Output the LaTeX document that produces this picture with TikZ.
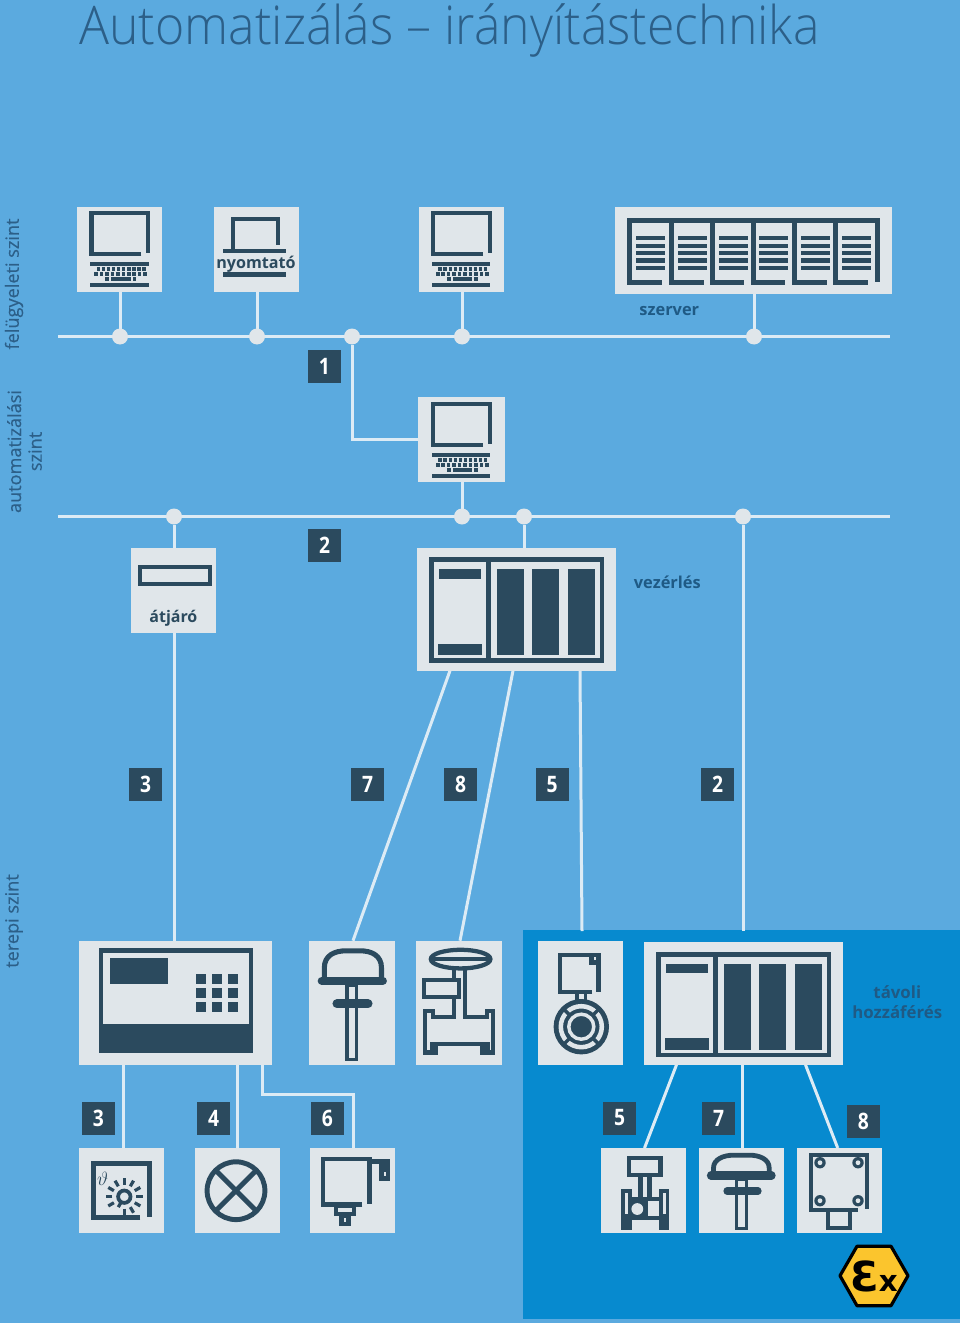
\documentclass[tikz,border=0pt]{standalone}
\usepackage{fontspec}
\setmainfont{Open Sans}
\newfontfamily\lightfont[FakeStretch=0.936]{Open Sans Light}
\newfontfamily\digfont[FakeStretch=0.85]{Open Sans}
\newfontfamily\medfont[FakeBold=0.35]{Open Sans}
\newfontfamily\exfont{DejaVu Sans}
\usetikzlibrary{backgrounds,calc}
\definecolor{bgblue}{HTML}{5BAADF}
\definecolor{panelblue}{HTML}{078ACF}
\definecolor{boxgrey}{HTML}{E0E6EA}
\definecolor{darkblue}{HTML}{2B4A5E}
\definecolor{wirecol}{HTML}{DCEBF5}
\definecolor{labelblue}{HTML}{1F5A85}
\definecolor{titleblue}{HTML}{2C5F88}
\definecolor{exyellow}{HTML}{FBC52D}
\newcommand{\rc}[4]{\fill[darkblue] (#1,#2) rectangle (#3,#4);}
\newcommand{\devbox}[5]{%
  \pgfmathsetmacro\dw{(#4-#2)*0.75}\pgfmathsetmacro\dh{(#5-#3)*0.75}%
  \node[dev,minimum width=\dw pt,minimum height=\dh pt,anchor=north west] (#1) at (#2,#3) {};}
\tikzset{
  dev/.style={fill=boxgrey,inner sep=0pt,outer sep=0pt},
  wire/.style={draw=wirecol,line width=2.25pt},
  busdot/.style={circle,fill=boxgrey,inner sep=0pt,outer sep=0pt,minimum size=12pt},
  badge/.style={fill=darkblue,text=white,inner sep=0pt,outer sep=0pt,minimum size=24.75pt,font=\digfont\bfseries\fontsize{17}{17}\selectfont},
  ic/.style={draw=darkblue,line width=3.2pt,fill=none},
  thin ic/.style={draw=darkblue,line width=2.6pt,fill=none},
  lab/.style={text=labelblue,font=\bfseries\fontsize{12.3}{15.5}\selectfont,inner sep=0pt,outer sep=0pt,align=center},
  boxlab/.style={text=darkblue,font=\bfseries\fontsize{12}{15}\selectfont,inner sep=0pt,outer sep=0pt},
  level/.style={text=titleblue,rotate=90,font=\medfont\fontsize{13.6}{15.5}\selectfont,inner sep=0pt,outer sep=0pt,align=center},
  computer/.pic={
    \begin{scope}[shift={(-77.3,-206.7)}]
      \draw[ic] (141.3,254) -- (91.5,254) -- (91.5,213.2) -- (148,213.2) -- (148,253.3);
      \rc{90}{261.7}{148.7}{266}
      \rc{90}{283}{148.7}{287.3}
      \foreach \i in {0,...,9}{\fill[darkblue] ({96.7+\i*5.05},267.3) rectangle ++(3.5,3.7);}
      \foreach \i in {0,...,9}{\fill[darkblue] ({94.3+\i*5.45},272) rectangle ++(3.5,3.7);}
      \rc{105.3}{277}{109}{280.7}
      \rc{111}{277}{130.7}{280.7}
      \rc{132.7}{277}{136}{280.7}
    \end{scope}
  },
  controller/.pic={
    \begin{scope}[shift={(-417.4,-547.7)}]
      \draw[darkblue,line width=3.4pt] (431.5,559.6) rectangle (602.2,660.4);
      \rc{486.2}{559}{490.8}{661}
      \rc{439.2}{569.3}{480.9}{578.7}
      \rc{437.6}{643.7}{481.6}{655}
      \rc{496.6}{569.3}{523.7}{655}
      \rc{532.2}{569.3}{559.3}{655}
      \rc{567.8}{569.3}{594.5}{655}
    \end{scope}
  },
}
\begin{document}
\begin{tikzpicture}[x=0.75pt,y=-0.75pt]
\useasboundingbox (0,0) rectangle (960,1323);

% --- upper devices
\devbox{c1}{77.3}{206.7}{162.3}{291.7}
\devbox{pr}{213.7}{206.7}{299}{291.7}
\devbox{c3}{419}{206.7}{504}{291.7}
\devbox{srv}{615}{206.7}{892}{294}
\devbox{c4}{418.3}{396.7}{504.7}{482.3}
\devbox{gw}{130.7}{547.7}{216}{632.7}
\devbox{plc}{417.4}{547.7}{615.6}{670.7}
% --- field devices
\devbox{hmi}{79}{940.7}{271.7}{1064.7}
\devbox{act}{309.3}{940.7}{394.7}{1064.7}
\devbox{val}{416}{940.7}{501.7}{1064.7}
\devbox{flow}{538}{940.7}{623.3}{1064.7}
\devbox{plcb}{644.4}{942.4}{842.6}{1064.8}
\devbox{temp}{79}{1148}{164}{1233.3}
\devbox{lamp}{194.7}{1148}{280}{1233.3}
\devbox{trans}{310}{1148}{395.3}{1233.3}
\devbox{mag}{601}{1148}{686.3}{1233.3}
\devbox{actb}{699}{1148}{784}{1233.3}
\devbox{jbox}{796.7}{1148}{882}{1233.3}

% --- bus ends and attachment points
\coordinate (b1l) at (58,336.5);
\coordinate (b1r) at (890,336.5);
\coordinate (b2l) at (58,516.5);
\coordinate (b2r) at (890,516.5);
\node[busdot] (d1) at (120,336.5) {};
\node[busdot] (d2) at (257,336.5) {};
\node[busdot] (d3) at (352,336.5) {};
\node[busdot] (d4) at (462,336.5) {};
\node[busdot] (d5) at (754,336.5) {};
\node[busdot] (e1) at (174,516.5) {};
\node[busdot] (e2) at (462,516.5) {};
\node[busdot] (e3) at (524,516.5) {};
\node[busdot] (e4) at (743,516.5) {};
\coordinate (p7a) at (450,670.7);
\coordinate (p7b) at (353,940.7);
\coordinate (p8a) at (513,670.7);
\coordinate (p8b) at (460,940.7);
\coordinate (p5a) at (580,670.7);
\coordinate (p5b) at (582,931);
\coordinate (p2b) at (743,931);
\coordinate (q5a) at (676.5,1064.8);
\coordinate (q5b) at (644.5,1148);
\coordinate (q8a) at (805.5,1064.8);
\coordinate (q8b) at (837.7,1148);
\coordinate (r1) at (123.3,1064.7);
\coordinate (r2) at (237.3,1064.7);
\coordinate (r3) at (262.4,1064.7);

\begin{scope}[on background layer]
  \fill[bgblue] (0,0) rectangle (960,1323);
  \node[fill=panelblue,inner sep=0pt,outer sep=0pt,minimum width=327.75pt,minimum height=291.75pt,anchor=north west] (panel) at (523,930) {};
  \draw[wire] (b1l) -- (b1r);
  \draw[wire] (b2l) -- (b2r);
  \draw[wire] (d1) -- (d1|-c1.south);
  \draw[wire] (d2) -- (d2|-pr.south);
  \draw[wire] (d4) -- (d4|-c3.south);
  \draw[wire] (d5) -- (d5|-srv.south);
  \draw[wire] (d3) -- (d3|-c4.west) -- (c4.west);
  \draw[wire] (e2) -- (e2|-c4.south);
  \draw[wire] (e1) -- (e1|-gw.north);
  \draw[wire] (e3) -- (e3|-plc.north);
  \draw[wire] (e1|-gw.south) -- (e1|-hmi.north);
  \draw[wire] (e4) -- (p2b);
  \draw[wire] (p7a) -- (p7b);
  \draw[wire] (p8a) -- (p8b);
  \draw[wire] (p5a) -- (p5b);
  \draw[wire] (r1) -- (r1|-temp.north);
  \draw[wire] (r2) -- (r2|-lamp.north);
  \draw[wire] (r3) -- (262.4,1094.4) -- (353.3,1094.4) -- (353.3,1148);
  \draw[wire] (q5a) -- (q5b);
  \draw[wire] (plcb.south-|742,0) -- (actb.north-|742,0);
  \draw[wire] (q8a) -- (q8b);
\end{scope}

% --- title and level labels
\node[anchor=base west,inner sep=0pt,text=titleblue,font=\lightfont\fontsize{40}{40}\selectfont] (title) at (79,44.5) {Automatizálás – irányítástechnika};
\node[level] (l1) at (14,284) {felügyeleti szint};
\node[level] (l2) at (24.5,451.5) {automatizálási\\szint};
\node[level] (l3) at (14,921) {terepi szint};

% --- computers
\pic at (c1.north west) {computer};
\pic at (c3.north west) {computer};
\pic at (419,397.7) {computer};

% --- printer
\draw[ic] (233,249) -- (233,219) -- (277.8,219) -- (277.8,245);
\rc{223.3}{249}{286}{253.3}
\rc{223.3}{272.3}{286}{276.7}
\node[boxlab,anchor=base,font=\bfseries\fontsize{12.1}{15}\selectfont] (prt) at (256,268.5) {nyomtató};

% --- server
\foreach \x in {627.3,669,710.3,750.7,792,833.3}{\rc{\x}{218.3}{\x+5}{285}}
\rc{627.3}{218.3}{880}{223.3}
\rc{875}{218.3}{880}{281.7}
\foreach \x/\e in {627.3/662.3,669/703.7,710.3/744.3,750.7/785.3,792/826.7,833.3/868}{\rc{\x}{280}{\e}{285}}
\foreach \x in {636,677.7,719,759.3,801,842.3}{
  \foreach \y in {236,243.7,251,258.3,266}{\rc{\x}{\y}{\x+29}{\y+4.3}}
}
\node[lab,anchor=base] (srvl) at (669.3,315) {szerver};

% --- gateway
\draw[darkblue,line width=3pt] (140,567) rectangle (209.8,584.3);
\node[boxlab,anchor=base] (gwl) at (173.4,622) {átjáró};

% --- PLCs
\pic at (plc.north west) {controller};
\pic at (plcb.north west) {controller};
\node[lab,anchor=base] (plcl) at (667.3,588) {vezérlés};
\node[lab,font=\bfseries\fontsize{12.6}{15.5}\selectfont] (rem) at (897.3,1002) {távoli\\hozzáférés};

% --- HMI
\draw[darkblue,line width=3.2pt] (101.1,950.4) rectangle (251.2,1050.6);
\rc{99}{1023.7}{253.3}{1052.7}
\rc{110.3}{957.7}{168.3}{984.3}
\foreach \x in {196.3,212,227.7}{\foreach \y in {973.7,987.7,1001.7}{\rc{\x}{\y}{\x+10}{\y+10.3}}}

% --- actuator (tall)
\draw[line width=3.8pt,draw=darkblue] (324.3,979) -- (324.3,968) .. controls (324.3,955) and (335,950.8) .. (346,950.8) -- (360,950.8) .. controls (371,950.8) and (381.5,955) .. (381.5,968) -- (381.5,979);
\draw[darkblue,line width=6.2pt,line cap=round] (321.8,980.8) -- (382.8,980.8);
\draw[thin ic] (347,985) rectangle (356.7,1059.4);
\draw[darkblue,line width=6.8pt,line cap=round] (337,1003.8) -- (368,1003.8);

% --- valve
\draw[ic] (460.6,959.1) ellipse (29.8 and 9.3);
\draw[darkblue,line width=2.6pt] (431,959.1) -- (490,959.1);
\draw[ic] (454,970) -- (454,978);
\draw[ic] (465,968) -- (465,1017.3) -- (486.7,1017.3) -- (486.7,1011) -- (493,1011) -- (493,1052.4) -- (480,1052.4);
\draw[ic] (454,998) -- (454,1017.3) -- (433.3,1017.3) -- (433.3,1011) -- (425.3,1011) -- (425.3,1052.4) -- (438,1052.4);
\draw[ic] (424.3,980) rectangle (459,996.7);
\rc{430}{1041.7}{490}{1045.7}
\rc{430}{1041.7}{438.3}{1054}
\rc{480}{1041.7}{490}{1054}

% --- flow meter
\draw[ic] (592,992) -- (560,992) -- (560,954.7) -- (598.6,954.7) -- (598.6,991.7);
\rc{589}{953}{600.3}{965}
\fill[boxgrey] (593.5,957) rectangle (595.5,960);
\draw[thin ic] (577,994) -- (577,1003);
\draw[thin ic] (585.5,994) -- (585.5,1003);
\fill[darkblue] (581.3,1026.7) circle (27.7);
\draw[boxgrey,line width=3.4pt] (581.3,1026.7) circle (20.5);
\foreach \a in {45,135,225,315}{\draw[darkblue,line width=2.6pt] ($(581.3,1026.7)+(\a:17.5)$) -- ($(581.3,1026.7)+(\a:24)$);}
\draw[boxgrey,line width=2.6pt] (581.3,1026.7) circle (12.5);

% --- temperature
\draw[ic] (140.3,1217.4) -- (93.4,1217.4) -- (93.4,1163.4) -- (149.5,1163.4) -- (149.5,1217.3);
\draw[darkblue,line width=2.8pt] (124.3,1196.7) circle (6.2);
\foreach \a in {0,30,60,90,150,180,210,240,270,300,330}{\draw[darkblue,line width=2.4pt] ($(124.3,1196.7)+(\a:12)$) -- ($(124.3,1196.7)+(\a:18.5)$);}
\draw[darkblue,line width=2.4pt] ($(124.3,1196.7)+(120:6)$) -- ($(124.3,1196.7)+(120:12)$);
\node[inner sep=0pt,text=darkblue,font=\fontsize{14}{14}\selectfont] (theta) at (102.7,1179.3) {$\vartheta$};

% --- lamp
\draw[darkblue,line width=3.7pt] (236,1190.7) circle (28.9);
\draw[darkblue,line width=3.7pt] ($(236,1190.7)+(45:28.9)$) -- ($(236,1190.7)+(225:28.9)$);
\draw[darkblue,line width=3.7pt] ($(236,1190.7)+(135:28.9)$) -- ($(236,1190.7)+(315:28.9)$);

% --- transmitter
\draw[ic] (362.3,1204.6) -- (322.8,1204.6) -- (322.8,1158.8) -- (369.6,1158.8) -- (369.6,1204.3);
\rc{369}{1159.3}{390}{1163.7}
\rc{379}{1163}{390}{1181}
\fill[boxgrey] (383.5,1172) rectangle (385.5,1176);
\draw[ic] (336.3,1206) rectangle (354,1213.7);
\rc{339.3}{1215}{350.7}{1225.7}
\fill[boxgrey] (344,1218) rectangle (346,1222);

% --- magnetic flow meter
\draw[ic] (628.8,1158.1) rectangle (660.6,1175.2);
\rc{638.3}{1177}{642.7}{1197}
\rc{647.3}{1177}{651.7}{1197}
\rc{621}{1189}{631.7}{1230.3}
\rc{659}{1189}{669.3}{1230.3}
\fill[boxgrey] (625,1193) rectangle (627.7,1214);
\fill[boxgrey] (663,1193) rectangle (665.7,1214);
\rc{631}{1197}{660}{1200.7}
\rc{631}{1200}{648}{1216}
\rc{631}{1216}{660}{1220}
\fill[boxgrey] (637.3,1209) circle (5.9);

% --- actuator (short)
\draw[line width=3.6pt,draw=darkblue] (713.5,1173) -- (713.5,1168) .. controls (713.5,1159) and (724,1155.2) .. (733,1155.2) -- (750,1155.2) .. controls (759,1155.2) and (769.2,1159) .. (769.2,1168) -- (769.2,1173);
\draw[darkblue,line width=6.2pt,line cap=round] (711,1175.6) -- (771.5,1175.6);
\draw[thin ic] (736.7,1179) rectangle (746.3,1228.4);
\draw[darkblue,line width=5.4pt,line cap=round] (727,1191) -- (758,1191);

% --- junction box
\draw[ic] (857.7,1209.7) -- (811.3,1209.7) -- (811.3,1155.3) -- (867,1155.3) -- (867,1209.3);
\foreach \x in {820,858}{\foreach \y in {1162.7,1200.7}{
  \fill[darkblue] (\x,\y) circle (5.7);
  \fill[boxgrey] (\x,\y) circle (2.4);
}}
\draw[ic] (828,1211.7) -- (828,1228.3) -- (849.7,1228.3) -- (849.7,1211.7);

% --- Ex mark
\draw[black,line width=2.4pt,fill=exyellow,line join=round] (840,1275.7) -- (857,1246.2) -- (891,1246.2) -- (908,1275.7) -- (891,1305.7) -- (857,1305.7) -- cycle;
\node[inner sep=0pt,text=black,anchor=base] (exm) at (874,1291) {\exfont\bfseries\fontsize{31}{31}\selectfont Ɛ\fontsize{22}{22}\selectfont x};

% --- number badges
\node[badge] (n1) at (324.3,366) {1};
\node[badge] (n2) at (324.5,545.5) {2};
\node[badge] (n3) at (145.5,784.5) {3};
\node[badge] (n7) at (367.5,784.5) {7};
\node[badge] (n8) at (460.5,784.5) {8};
\node[badge] (n5) at (552,784.5) {5};
\node[badge] (n2b) at (717.5,784.5) {2};
\node[badge] (m3) at (98.3,1118) {3};
\node[badge] (m4) at (213.7,1118) {4};
\node[badge] (m6) at (327.3,1118) {6};
\node[badge] (m5) at (619.7,1118) {5};
\node[badge] (m7) at (718.7,1118.5) {7};
\node[badge] (m8) at (863.3,1121.3) {8};
\end{tikzpicture}
\end{document}
